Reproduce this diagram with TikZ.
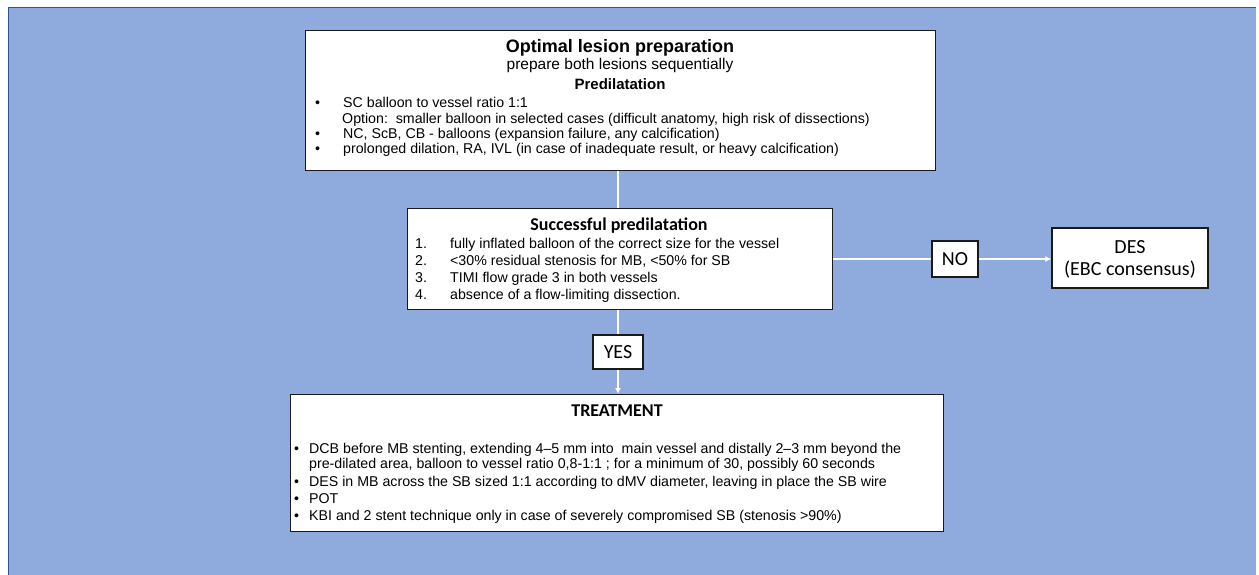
\documentclass[tikz,border=0pt]{standalone}
\usepackage{fontspec}
\setmainfont{Liberation Sans}
\newfontfamily\calibri{Carlito}
\usetikzlibrary{arrows.meta}
\definecolor{panelblue}{HTML}{8FAADC}
\definecolor{paneledge}{HTML}{2F5597}
\definecolor{boxedge}{HTML}{1A1A1A}
\tikzset{
  boxnode/.style={draw=boxedge, line width=1.2pt, fill=white, rectangle, inner sep=0pt, anchor=north west},
  labelbox/.style={draw=boxedge, line width=1.2pt, fill=white, rectangle, inner sep=0pt, font=\calibri\fontsize{20}{22}\selectfont, align=center},
  txt/.style={inner sep=0pt, anchor=base west, font=\fontsize{14.2}{16}\selectfont},
  ctxt/.style={inner sep=0pt, anchor=base},
  conn/.style={draw=white, line width=1.5pt},
  connarrow/.style={draw=white, line width=1.5pt, -{Latex[length=6pt,width=6pt]}}
}
\begin{document}
\begin{tikzpicture}[x=1pt,y=-1pt]
\useasboundingbox (0,0) rectangle (1259,575);
\fill[panelblue] (8,7) rectangle (1256,575);
\draw[paneledge, line width=0.8pt] (8,575) -- (8,7) -- (1256,7);

% ---------- boxes ----------
\node[boxnode, minimum width=630pt, minimum height=140pt] (top) at (305,30) {};
\node[boxnode, minimum width=425pt, minimum height=101pt] (pre) at (407,208) {};
\node[boxnode, minimum width=653pt, minimum height=137pt] (treat) at (290,394) {};
\node[labelbox, minimum width=46pt, minimum height=36pt] (no) at (955,259) {};
\node[labelbox, minimum width=156pt, minimum height=60pt] (des) at (1130,258) {};
\node[labelbox, minimum width=50pt, minimum height=34pt] (yes) at (618,352) {};

% ---------- top box text ----------
\node[ctxt, font=\bfseries\fontsize{18}{20}\selectfont] (t1) at (620,53) {Optimal lesion preparation};
\node[ctxt, font=\fontsize{15.5}{18}\selectfont] (t2) at (620,69.5) {prepare both lesions sequentially};
\node[ctxt, font=\bfseries\fontsize{15}{18}\selectfont] (t3) at (620,90) {Predilatation};
\node[txt] (tb1) at (315,108) {•};
\node[txt] (tl1) at (343,108) {SC balloon to vessel ratio 1:1};
\node[txt] (tl2) at (342,123.5) {Option:\ \ smaller balloon in selected cases (difficult anatomy, high risk of dissections)};
\node[txt] (tb3) at (315,138.5) {•};
\node[txt] (tl3) at (343,138.5) {NC, ScB, CB - balloons (expansion failure, any calcification)};
\node[txt] (tb4) at (315,153.5) {•};
\node[txt] (tl4) at (343,153.5) {prolonged dilation, RA, IVL (in case of inadequate result, or heavy calcification)};

% ---------- predilatation box text ----------
\node[ctxt, font=\calibri\bfseries\fontsize{18}{20}\selectfont] (p0) at (619,230.7) {Successful predilatation};
\node[txt] (pn1) at (415,248.3) {1.};
\node[txt] (pl1) at (450,248.3) {fully inflated balloon of the correct size for the vessel};
\node[txt] (pn2) at (415,265.7) {2.};
\node[txt] (pl2) at (450,265.7) {<30\% residual stenosis for MB, <50\% for SB};
\node[txt] (pn3) at (415,282.7) {3.};
\node[txt] (pl3) at (450,282.7) {TIMI flow grade 3 in both vessels};
\node[txt] (pn4) at (415,299.5) {4.};
\node[txt] (pl4) at (450,299.5) {absence of a flow-limiting dissection.};

% ---------- label box text ----------
\node[ctxt, font=\calibri\fontsize{20}{22}\selectfont] (notxt) at (955,265) {NO};
\node[ctxt, font=\calibri\fontsize{20}{22}\selectfont] (des1) at (1130,253.3) {DES};
\node[ctxt, font=\calibri\fontsize{20}{22}\selectfont] (des2) at (1130,275) {(EBC consensus)};
\node[ctxt, font=\calibri\fontsize{20}{22}\selectfont] (yestxt) at (618,358.3) {YES};

% ---------- treatment box text ----------
\node[ctxt, font=\calibri\bfseries\fontsize{18}{20}\selectfont] (tr0) at (617,416) {TREATMENT};
\node[txt] (trb1) at (294,453) {•};
\node[txt] (trl1) at (309,453) {DCB before MB stenting, extending 4–5 mm into\ \ main vessel and distally 2–3 mm beyond the};
\node[txt] (trl1b) at (309,468.5) {pre-dilated area, balloon to vessel ratio 0,8-1:1 ; for a minimum of 30, possibly 60 seconds};
\node[txt] (trb2) at (294,486.7) {•};
\node[txt] (trl2) at (309,486.7) {DES in MB across the SB sized 1:1 according to dMV diameter, leaving in place the SB wire};
\node[txt] (trb3) at (294,503.3) {•};
\node[txt] (trl3) at (309,503.3) {POT};
\node[txt] (trb4) at (294,520) {•};
\node[txt] (trl4) at (309,520) {KBI and 2 stent technique only in case of severely compromised SB (stenosis >90\%)};

% ---------- connectors ----------
\draw[conn] (top.south -| yes.north) -- (pre.north -| yes.north);
\draw[conn] (pre.south -| yes.north) -- (yes.north);
\draw[connarrow] (yes.south) -- (treat.north -| yes.south);
\draw[conn] (pre.east |- no.west) -- (no.west);
\draw[connarrow] (no.east) -- (des.west |- no.east);
\end{tikzpicture}
\end{document}
